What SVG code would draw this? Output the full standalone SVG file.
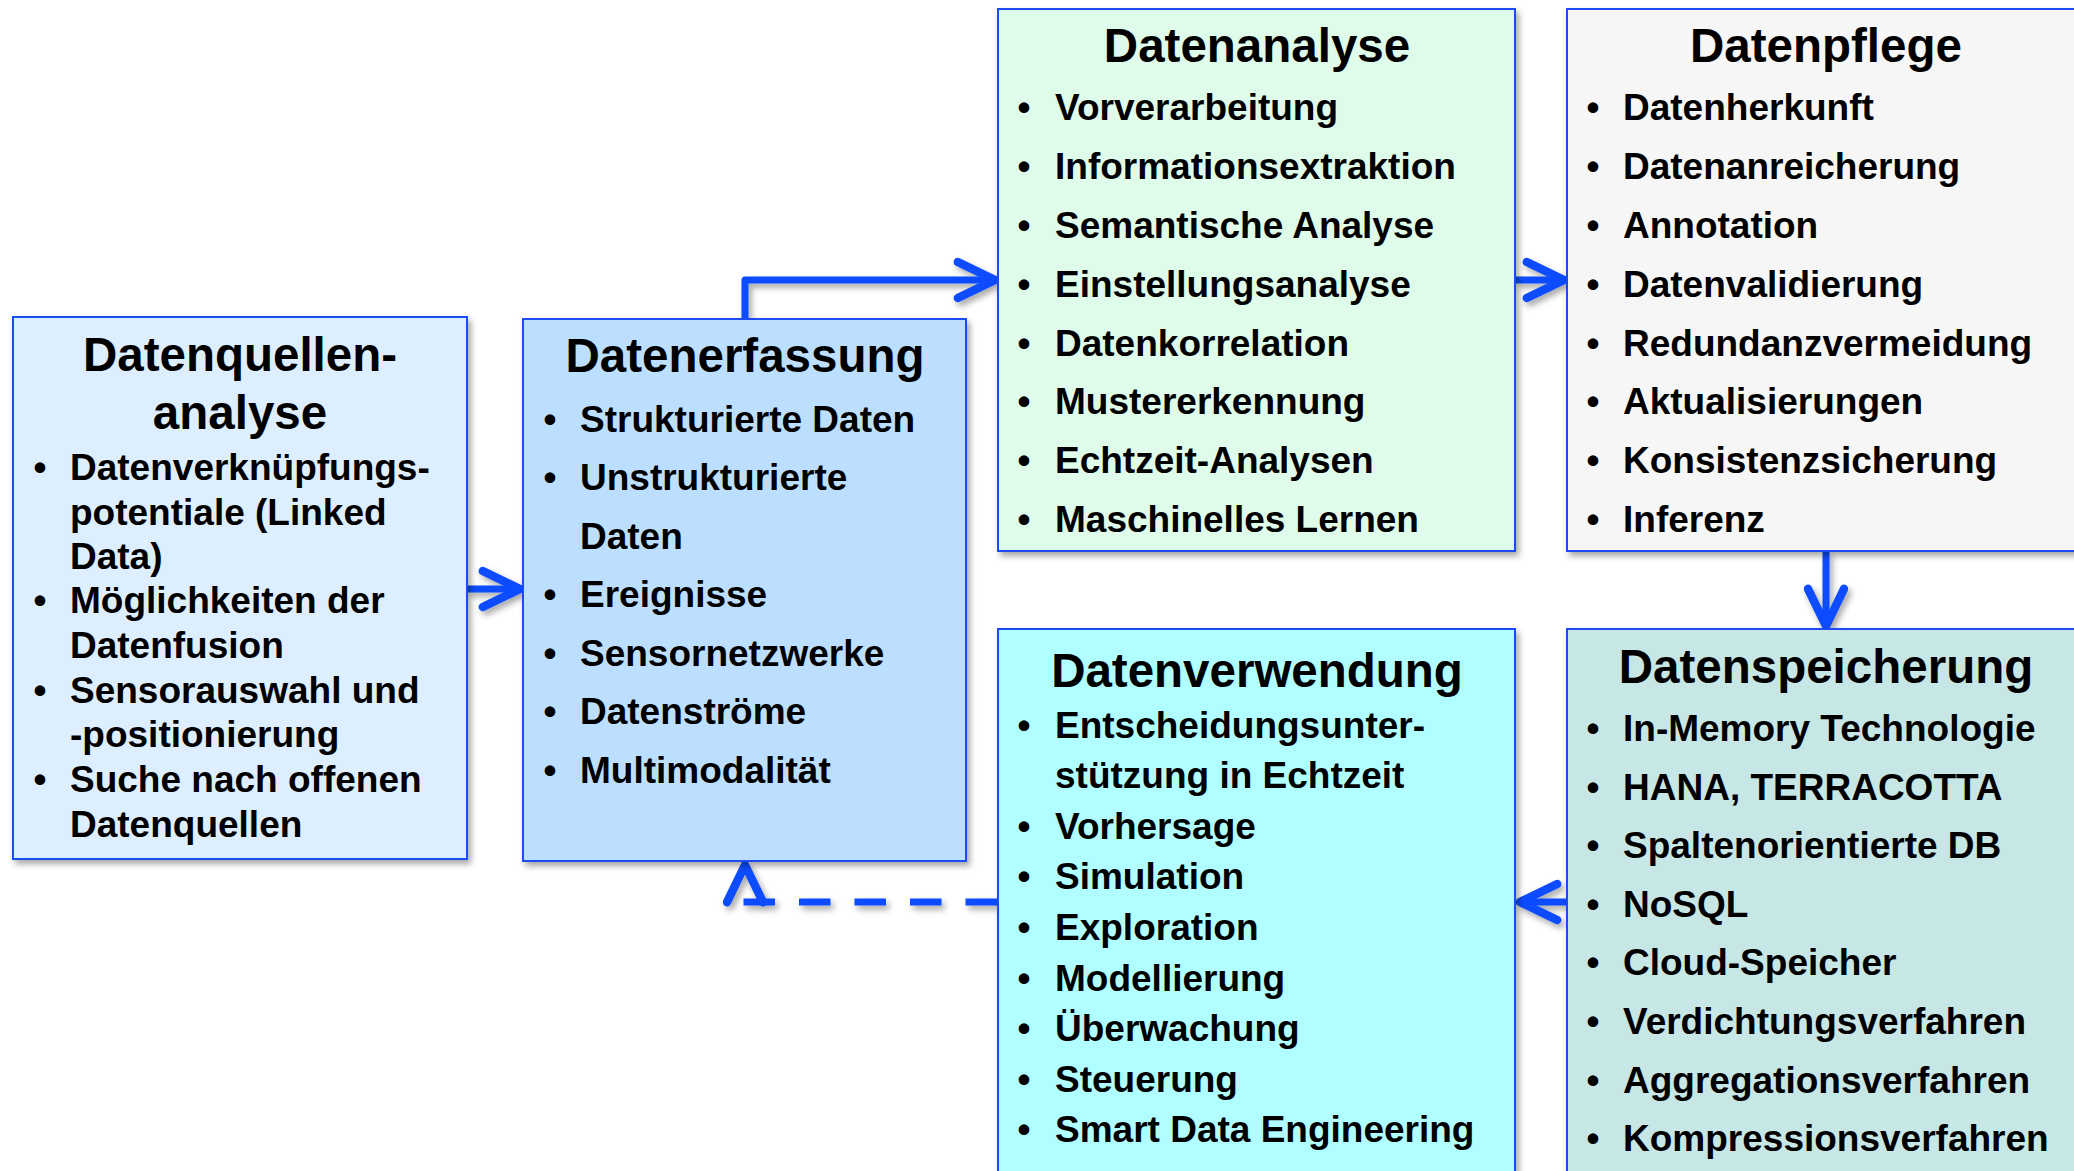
<svg xmlns="http://www.w3.org/2000/svg" width="2074" height="1171" viewBox="0 0 2074 1171">
<defs>
<style>
.box{stroke:#1b4cf5;stroke-width:2}
.t{font-family:"Liberation Sans",Arial,sans-serif;font-weight:bold;fill:#000}
.title{font-size:47.5px;text-anchor:middle}
.it{font-size:37px}
.b{font-size:37px;text-anchor:middle}
.con{fill:none;stroke:#0a4bff;stroke-width:7;stroke-linejoin:round}
.dash{stroke-dasharray:31.5 24}
</style>
<filter id="sh" x="-5%" y="-5%" width="115%" height="115%">
<feDropShadow dx="3" dy="4" stdDeviation="3" flood-color="#000" flood-opacity="0.35"/>
</filter>
<marker id="ah" markerUnits="userSpaceOnUse" markerWidth="60" markerHeight="60" viewBox="-40 -25 50 50" refX="0" refY="0" orient="auto" overflow="visible">
<path d="M-31,-15 L0,0 L-31,15" fill="none" stroke="#0a4bff" stroke-width="7" stroke-linecap="round" stroke-linejoin="round"/>
</marker>
</defs>
<rect width="2074" height="1171" fill="#fff"/>

<g id="connectors" filter="url(#sh)">
<path class="con" d="M467,589 H520" marker-end="url(#ah)"/>
<path class="con" d="M745,319 V280 H995" marker-end="url(#ah)"/>
<path class="con" d="M1515,280 H1564" marker-end="url(#ah)"/>
<path class="con" d="M1826,551 V626" marker-end="url(#ah)"/>
<path class="con" d="M1567,902 H1520" marker-end="url(#ah)"/>
<path class="con dash" d="M997,902 H743"/>
<path class="con" d="M745,868 V865" marker-end="url(#ah)"/>
</g>

<g id="datenquellenanalyse">
<rect class="box" x="13" y="317" width="454" height="542" fill="#ddeeff" filter="url(#sh)"/>
<text class="t title" x="240" y="371">Datenquellen-</text>
<text class="t title" x="240" y="429">analyse</text>
<text class="t b" x="40" y="480">•</text><text class="t it" x="70" y="480">Datenverknüpfungs-</text>
<text class="t it" x="70" y="525">potentiale (Linked</text>
<text class="t it" x="70" y="569">Data)</text>
<text class="t b" x="40" y="613">•</text><text class="t it" x="70" y="613">Möglichkeiten der</text>
<text class="t it" x="70" y="658">Datenfusion</text>
<text class="t b" x="40" y="703">•</text><text class="t it" x="70" y="703">Sensorauswahl und</text>
<text class="t it" x="70" y="747">-positionierung</text>
<text class="t b" x="40" y="792">•</text><text class="t it" x="70" y="792">Suche nach offenen</text>
<text class="t it" x="70" y="837">Datenquellen</text>
</g>

<g id="datenerfassung">
<rect class="box" x="523" y="319" width="443" height="542" fill="#bddfff" filter="url(#sh)"/>
<text class="t title" x="745" y="372">Datenerfassung</text>
<text class="t b" x="550" y="432">•</text><text class="t it" x="580" y="432">Strukturierte Daten</text>
<text class="t b" x="550" y="490">•</text><text class="t it" x="580" y="490">Unstrukturierte</text>
<text class="t it" x="580" y="549">Daten</text>
<text class="t b" x="550" y="607">•</text><text class="t it" x="580" y="607">Ereignisse</text>
<text class="t b" x="550" y="666">•</text><text class="t it" x="580" y="666">Sensornetzwerke</text>
<text class="t b" x="550" y="724">•</text><text class="t it" x="580" y="724">Datenströme</text>
<text class="t b" x="550" y="783">•</text><text class="t it" x="580" y="783">Multimodalität</text>
</g>

<g id="datenanalyse">
<rect class="box" x="998" y="9" width="517" height="542" fill="#dffbea" filter="url(#sh)"/>
<text class="t title" x="1257" y="62">Datenanalyse</text>
<text class="t b" x="1024" y="120">•</text><text class="t it" x="1055" y="120">Vorverarbeitung</text>
<text class="t b" x="1024" y="179">•</text><text class="t it" x="1055" y="179">Informationsextraktion</text>
<text class="t b" x="1024" y="238">•</text><text class="t it" x="1055" y="238">Semantische Analyse</text>
<text class="t b" x="1024" y="297">•</text><text class="t it" x="1055" y="297">Einstellungsanalyse</text>
<text class="t b" x="1024" y="356">•</text><text class="t it" x="1055" y="356">Datenkorrelation</text>
<text class="t b" x="1024" y="414">•</text><text class="t it" x="1055" y="414">Mustererkennung</text>
<text class="t b" x="1024" y="473">•</text><text class="t it" x="1055" y="473">Echtzeit-Analysen</text>
<text class="t b" x="1024" y="532">•</text><text class="t it" x="1055" y="532">Maschinelles Lernen</text>
</g>

<g id="datenpflege">
<rect class="box" x="1567" y="9" width="520" height="542" fill="#f6f6f6" filter="url(#sh)"/>
<text class="t title" x="1826" y="62">Datenpflege</text>
<text class="t b" x="1593" y="120">•</text><text class="t it" x="1623" y="120">Datenherkunft</text>
<text class="t b" x="1593" y="179">•</text><text class="t it" x="1623" y="179">Datenanreicherung</text>
<text class="t b" x="1593" y="238">•</text><text class="t it" x="1623" y="238">Annotation</text>
<text class="t b" x="1593" y="297">•</text><text class="t it" x="1623" y="297">Datenvalidierung</text>
<text class="t b" x="1593" y="356">•</text><text class="t it" x="1623" y="356">Redundanzvermeidung</text>
<text class="t b" x="1593" y="414">•</text><text class="t it" x="1623" y="414">Aktualisierungen</text>
<text class="t b" x="1593" y="473">•</text><text class="t it" x="1623" y="473">Konsistenzsicherung</text>
<text class="t b" x="1593" y="532">•</text><text class="t it" x="1623" y="532">Inferenz</text>
</g>

<g id="datenverwendung">
<rect class="box" x="998" y="629" width="517" height="570" fill="#b0feff" filter="url(#sh)"/>
<text class="t title" x="1257" y="687">Datenverwendung</text>
<text class="t b" x="1024" y="737.5">•</text><text class="t it" x="1055" y="737.5">Entscheidungsunter-</text>
<text class="t it" x="1055" y="788">stützung in Echtzeit</text>
<text class="t b" x="1024" y="838.7">•</text><text class="t it" x="1055" y="838.7">Vorhersage</text>
<text class="t b" x="1024" y="889.3">•</text><text class="t it" x="1055" y="889.3">Simulation</text>
<text class="t b" x="1024" y="940">•</text><text class="t it" x="1055" y="940">Exploration</text>
<text class="t b" x="1024" y="990.5">•</text><text class="t it" x="1055" y="990.5">Modellierung</text>
<text class="t b" x="1024" y="1041">•</text><text class="t it" x="1055" y="1041">Überwachung</text>
<text class="t b" x="1024" y="1091.7">•</text><text class="t it" x="1055" y="1091.7">Steuerung</text>
<text class="t b" x="1024" y="1142.3">•</text><text class="t it" x="1055" y="1142.3">Smart Data Engineering</text>
</g>

<g id="datenspeicherung">
<rect class="box" x="1567" y="629" width="520" height="570" fill="#c7e7e6" filter="url(#sh)"/>
<text class="t title" x="1826" y="683">Datenspeicherung</text>
<text class="t b" x="1593" y="741">•</text><text class="t it" x="1623" y="741">In-Memory Technologie</text>
<text class="t b" x="1593" y="799.6">•</text><text class="t it" x="1623" y="799.6">HANA, TERRACOTTA</text>
<text class="t b" x="1593" y="858.2">•</text><text class="t it" x="1623" y="858.2">Spaltenorientierte DB</text>
<text class="t b" x="1593" y="916.8">•</text><text class="t it" x="1623" y="916.8">NoSQL</text>
<text class="t b" x="1593" y="975.4">•</text><text class="t it" x="1623" y="975.4">Cloud-Speicher</text>
<text class="t b" x="1593" y="1034">•</text><text class="t it" x="1623" y="1034">Verdichtungsverfahren</text>
<text class="t b" x="1593" y="1092.6">•</text><text class="t it" x="1623" y="1092.6">Aggregationsverfahren</text>
<text class="t b" x="1593" y="1151.2">•</text><text class="t it" x="1623" y="1151.2">Kompressionsverfahren</text>
</g>
</svg>
